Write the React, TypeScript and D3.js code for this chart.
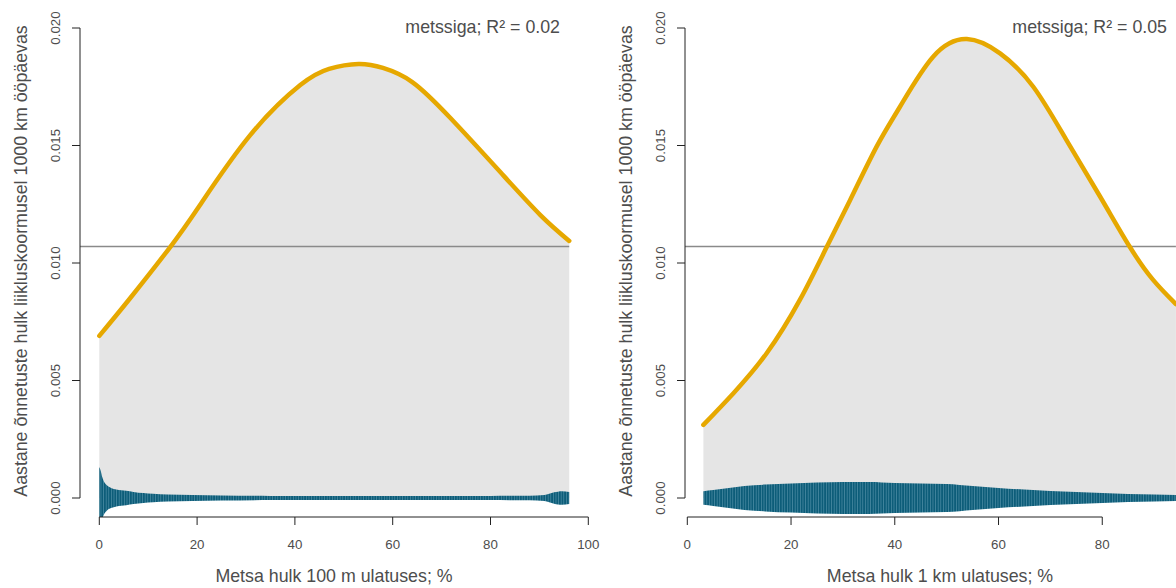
import React from "react";
import * as d3 from "d3";

// ---- data ----
const yTicks = [0, 0.005, 0.01, 0.015, 0.02];
const leftXTicks = [0, 20, 40, 60, 80, 100];
const rightXTicks = [0, 20, 40, 60, 80];

const refLevel = 0.0107;

// left panel: 100 m
const leftCurveX = [0, 6.3, 14.5, 20.6, 30.9, 41.1, 47, 53, 58, 64, 71.8, 82, 90.2, 96.1];
const leftCurveY = [0.0069, 0.0085, 0.01068, 0.01247, 0.01545, 0.01757, 0.01826, 0.01847, 0.0183, 0.0177, 0.01617, 0.01387, 0.01204, 0.01094];
const leftBandX = [0, 0.3, 0.6, 1, 1.5, 2.4, 3.5, 5.5, 7, 9, 11, 14, 19, 25, 35, 50, 65, 80, 88, 91, 93, 94.6, 96.1];
const leftBandHalf = [0.00132, 0.00115, 0.00089, 0.00068, 0.00055, 0.00043, 0.00036, 0.00031, 0.00026, 0.00021, 0.00018, 0.00015, 0.00013, 0.00011, 0.00009, 0.00009, 0.00009, 0.00009, 0.0001, 0.00013, 0.00024, 0.00029, 0.00026];

// right panel: 1 km
const rightCurveX = [3.1, 8.9, 15.3, 21.7, 26.9, 31.4, 36.5, 41.0, 47.4, 53.9, 60.3, 66.7, 73.1, 79.6, 85.3, 89.8, 94.2];
const rightCurveY = [0.00311, 0.00446, 0.00616, 0.00843, 0.01069, 0.01268, 0.01495, 0.01665, 0.01878, 0.01953, 0.01892, 0.0175, 0.01523, 0.01282, 0.01069, 0.00928, 0.00825];
const rightBandX = [3.1, 5, 8, 11, 15, 20, 25, 30, 35, 40, 45, 50, 55, 60, 65, 70, 75, 80, 85, 90, 94.2];
const rightBandHalf = [0.00029, 0.00034, 0.00043, 0.00051, 0.00057, 0.00062, 0.00066, 0.00068, 0.00068, 0.00064, 0.00062, 0.0006, 0.00051, 0.00043, 0.00036, 0.0003, 0.00026, 0.00021, 0.00017, 0.00015, 0.00013];

const titles = ["metssiga; R\u00b2 = 0.02", "metssiga; R\u00b2 = 0.05"];
const xLabels = ["Metsa hulk 100 m ulatuses; %", "Metsa hulk 1 km ulatuses; %"];
const yLabel = "Aastane \u00f5nnetuste hulk liikluskoormusel 1000 km \u00f6\u00f6p\u00e4evas";

const FONT = "'Liberation Sans', Arial, Helvetica, sans-serif";
const TEXT = "#4d4d4d";
const AXIS = "#222";
const ORANGE = "#E6A800";
const FILL = "#e5e5e5";

const panels = [
  {
    id: "l",
    x0px: 99.3, x100px: 588.3,
    regionLeft: 80, regionRight: 588,
    xTicks: leftXTicks,
    curveX: leftCurveX, curveY: leftCurveY,
    bandX: leftBandX, bandHalf: leftBandHalf,
    title: titles[0], xLabel: xLabels[0],
  },
  {
    id: "r",
    x0px: 687.3, x100px: 1206.0,
    regionLeft: 685, regionRight: 1195,
    xTicks: rightXTicks,
    curveX: rightCurveX, curveY: rightCurveY,
    bandX: rightBandX, bandHalf: rightBandHalf,
    title: titles[1], xLabel: xLabels[1],
  },
];

const yTop = 28, yZero = 498, xAxisY = 517;

function Panel({ p }: { p: any }) {
  const x = d3.scaleLinear().domain([0, 100]).range([p.x0px, p.x100px]);
  const y = d3.scaleLinear().domain([0, 0.02]).range([yZero, yTop]);
  const curvePts = p.curveX.map((v: number, i: number) => [v, p.curveY[i]]);
  const bandPts = p.bandX.map((v: number, i: number) => [v, p.bandHalf[i]]);
  const curve = d3.curveNatural;
  const bandCurve = d3.curveMonotoneX;
  const line = d3.line<number[]>().x((d) => x(d[0])).y((d) => y(d[1])).curve(curve);
  const fillArea = d3.area<number[]>().x((d) => x(d[0])).y0(y(0)).y1((d) => y(d[1])).curve(curve);
  const band = d3.area<number[]>().x((d) => x(d[0])).y0((d) => y(-d[1])).y1((d) => y(d[1])).curve(bandCurve);
  const xMax = p.curveX[p.curveX.length - 1];
  const clipId = "clip-" + p.id;
  const axisX = p.regionLeft;
  const ticksMin = p.xTicks[0], ticksMax = p.xTicks[p.xTicks.length - 1];
  return (
    <g>
      <clipPath id={clipId}>
        <rect x={p.regionLeft} y={0} width={p.regionRight - p.regionLeft} height={xAxisY} />
      </clipPath>
      <g clipPath={`url(#${clipId})`}>
        <path d={fillArea(curvePts) || ""} fill={FILL} />
        <line x1={p.regionLeft} x2={x(xMax)} y1={y(refLevel)} y2={y(refLevel)} stroke="#8a8a8a" strokeWidth={1.4} />
        <path d={band(bandPts) || ""} fill="url(#stripes)" />
        <path d={line(curvePts) || ""} fill="none" stroke={ORANGE} strokeWidth={4.5} strokeLinecap="round" />
      </g>
      {/* y axis */}
      <line x1={axisX} x2={axisX} y1={y(0)} y2={y(0.02)} stroke={AXIS} strokeWidth={1} />
      {yTicks.map((t) => (
        <g key={t}>
          <line x1={axisX - 8} x2={axisX} y1={y(t)} y2={y(t)} stroke={AXIS} strokeWidth={1} />
          <text
            transform={`translate(${axisX - 20},${y(t)}) rotate(-90)`}
            textAnchor="middle"
            fontSize={13.3}
            fill={TEXT}
            fontFamily={FONT}
          >
            {d3.format(".3f")(t)}
          </text>
        </g>
      ))}
      {/* x axis */}
      <line x1={x(ticksMin)} x2={x(ticksMax)} y1={xAxisY} y2={xAxisY} stroke={AXIS} strokeWidth={1} />
      {p.xTicks.map((t: number) => (
        <g key={t}>
          <line x1={x(t)} x2={x(t)} y1={xAxisY} y2={xAxisY + 8} stroke={AXIS} strokeWidth={1} />
          <text x={x(t)} y={548.5} textAnchor="middle" fontSize={13.3} fill={TEXT} fontFamily={FONT}>
            {t}
          </text>
        </g>
      ))}
      <text
        x={(p.regionLeft + p.regionRight) / 2}
        y={581.5}
        textAnchor="middle"
        fontSize={17.8}
        fill={TEXT}
        fontFamily={FONT}
      >
        {p.xLabel}
      </text>
      <text
        transform={`translate(${axisX - 53},${261}) rotate(-90)`}
        textAnchor="middle"
        fontSize={17.8}
        fill={TEXT}
        fontFamily={FONT}
      >
        {yLabel}
      </text>
      <text x={p.regionRight - 28} y={33} textAnchor="end" fontSize={17.8} fill={TEXT} fontFamily={FONT}>
        {p.title}
      </text>
    </g>
  );
}

export default function App() {
  return (
    <svg
      width={1176}
      height={588}
      style={{ position: "absolute", left: 0, top: 0, display: "block", background: "#fff" }}
    >
      <defs>
        <pattern id="stripes" width={2.6} height={20} patternUnits="userSpaceOnUse">
          <rect width={2.6} height={20} fill="#0d5d79" />
          <rect x={1.9} width={0.7} height={20} fill="#4f8fa7" />
        </pattern>
      </defs>
      <rect width={1176} height={588} fill="#fff" />
      {panels.map((p) => (
        <Panel key={p.id} p={p} />
      ))}
    </svg>
  );
}
